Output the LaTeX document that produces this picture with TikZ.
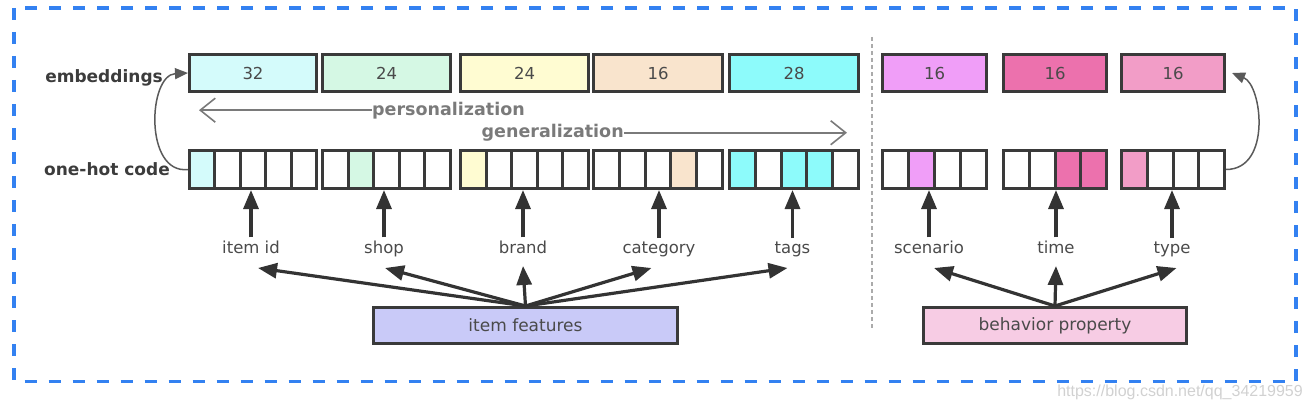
\documentclass[tikz,border=0pt]{standalone}
\usepackage{fontspec}
\setmainfont{DejaVu Sans}
\newfontfamily\wmfont{Liberation Sans}
\usetikzlibrary{arrows.meta,calc}
\definecolor{cA}{HTML}{D4FBFB}
\definecolor{cB}{HTML}{D5F8E4}
\definecolor{cC}{HTML}{FFFCD2}
\definecolor{cD}{HTML}{F9E4CD}
\definecolor{cE}{HTML}{8DFBFB}
\definecolor{cF}{HTML}{F09EF8}
\definecolor{cG}{HTML}{EC71AD}
\definecolor{cH}{HTML}{F29DC7}
\definecolor{cIF}{HTML}{C9CAF8}
\definecolor{cBP}{HTML}{F7CCE4}
\definecolor{boxline}{HTML}{3A3A3A}
\definecolor{txt}{HTML}{4A4A4A}
\definecolor{txtb}{HTML}{3C3C3C}
\definecolor{arrc}{HTML}{333333}
\definecolor{curvec}{HTML}{5A5A5A}
\definecolor{openc}{HTML}{7A7A7A}
\definecolor{bordc}{HTML}{3381F1}
\definecolor{sepc}{HTML}{ABABAB}
\newcommand\ohrow[5]{%
  \pgfmathsetmacro\cw{(#3-#2)/#4}%
  \foreach \fc [count=\i] in {#5}{%
    \node[cell, fill=\fc, minimum width=\cw pt] (#1-\i) at ({#2+(\i-0.5)*\cw},169.5) {};
  }%
}
\begin{document}
\begin{tikzpicture}[x=1pt,y=-1pt,
  emb/.style={draw=boxline, line width=3pt, minimum height=37pt, inner sep=0pt, font=\fontsize{16.5}{16.5}\selectfont, text=txt},
  cell/.style={draw=boxline, line width=3pt, minimum height=38pt, inner sep=0pt},
  lbl/.style={font=\fontsize{16.5}{16.5}\selectfont, text=txt, inner sep=0pt},
  side/.style={font=\bfseries\fontsize{17}{17}\selectfont, text=txtb, inner sep=0pt},
  dirlbl/.style={font=\bfseries\fontsize{17.5}{17.5}\selectfont, text=openc, inner sep=0pt},
  featbox/.style={draw=boxline, line width=3pt, minimum height=36pt, inner sep=0pt, font=\fontsize{17}{17}\selectfont, text=txt},
  thickarr/.style={draw=arrc, line width=3.2pt, -{Triangle[length=19pt,width=15pt]}},
  curvearr/.style={draw=curvec, line width=1.5pt, -{Triangle[length=13pt,width=11pt]}},
  openarr/.style={draw=openc, line width=1.6pt, -{Straight Barb[length=15pt,width=24pt]}},
  sep/.style={draw=sepc, line width=2pt, dash pattern=on 4pt off 3pt},
  border/.style={draw=bordc, line width=3.8pt, dash pattern=on 12pt off 12pt}
]
\useasboundingbox (0,0) rectangle (1312,404);
\draw[border] (14,8) rectangle (1296,381.5);

% embeddings row
\node[emb, fill=cA, minimum width=127pt] (e1) at (253,73) {32};
\node[emb, fill=cB, minimum width=128pt] (e2) at (386.5,73) {24};
\node[emb, fill=cC, minimum width=128pt] (e3) at (524.5,73) {24};
\node[emb, fill=cD, minimum width=129pt] (e4) at (658,73) {16};
\node[emb, fill=cE, minimum width=129pt] (e5) at (794,73) {28};
\node[emb, fill=cF, minimum width=104pt] (e6) at (934.5,73) {16};
\node[emb, fill=cG, minimum width=103pt] (e7) at (1055,73) {16};
\node[emb, fill=cH, minimum width=103pt] (e8) at (1173,73) {16};

% one-hot row
\ohrow{g1}{189.5}{316.5}{5}{cA,white,white,white,white}
\ohrow{g2}{322.5}{450.5}{5}{white,cB,white,white,white}
\ohrow{g3}{460.5}{588.5}{5}{cC,white,white,white,white}
\ohrow{g4}{593.5}{722.5}{5}{white,white,white,cD,white}
\ohrow{g5}{729.5}{858.5}{5}{cE,white,cE,cE,white}
\ohrow{r1}{882.5}{986.5}{4}{white,cF,white,white}
\ohrow{r2}{1003.5}{1106.5}{4}{white,white,cG,cG}
\ohrow{r3}{1121.5}{1224.5}{4}{cH,white,white,white}

% side labels
\node[side, anchor=base east] (embl) at (163,82.5) {embeddings};
\node[side, anchor=base east] (ohl) at (170,175) {one-hot code};

% curves
\draw[curvearr] (g1-1.west) .. controls ($(g1-1.west)+(-44,5)$) and ($(e1.west)+(-40,2)$) .. (e1.west);
\coordinate (rt) at ($(e8.east)+(6,0)$);
\draw[curvearr] (r3-4.east) .. controls ($(r3-4.east)+(46,0)$) and ($(rt)+(30,12)$) .. (rt);

% personalization / generalization
\node[dirlbl, anchor=base west] (pers) at (372,115) {personalization};
\coordinate (pl) at (199,112);
\draw[openarr] (pers.west) -- (pers.west -| pl);
\node[dirlbl, anchor=base west] (gen) at (481.5,137.5) {generalization};
\coordinate (gr) at (847,132);
\draw[openarr] (gen.east) -- (gen.east -| gr);

% separator
\coordinate (s1) at (872,37);
\coordinate (s2) at (872,328);
\draw[sep] (s1) -- (s2);

% feature labels
\node[lbl, anchor=base] (lid) at (251,253) {item id};
\node[lbl, anchor=base] (lshop) at (384,253) {shop};
\node[lbl, anchor=base] (lbrand) at (523,253) {brand};
\node[lbl, anchor=base] (lcat) at (659,253) {category};
\node[lbl, anchor=base] (ltags) at (792.5,253) {tags};
\node[lbl, anchor=base] (lscen) at (929,253) {scenario};
\node[lbl, anchor=base] (ltime) at (1056,253) {time};
\node[lbl, anchor=base] (ltype) at (1172,253) {type};

\draw[thickarr] ([yshift=3pt]lid.north) -- (lid.north |- g1-1.south);
\draw[thickarr] ([yshift=3pt]lshop.north) -- (lshop.north |- g2-1.south);
\draw[thickarr] ([yshift=3pt]lbrand.north) -- (lbrand.north |- g3-1.south);
\draw[thickarr] ([yshift=3pt]lcat.north) -- (lcat.north |- g4-1.south);
\draw[thickarr] ([yshift=3pt]ltags.north) -- (ltags.north |- g5-1.south);
\draw[thickarr] ([yshift=3pt]lscen.north) -- (lscen.north |- r1-1.south);
\draw[thickarr] ([yshift=3pt]ltime.north) -- (ltime.north |- r2-1.south);
\draw[thickarr] ([yshift=3pt]ltype.north) -- (ltype.north |- r3-1.south);

% source boxes
\node[featbox, fill=cIF, minimum width=304pt] (itf) at (525.5,325.5) {item features};
\node[featbox, fill=cBP, minimum width=263pt] (bhp) at (1055,325.5) {behavior property};

\coordinate (tid) at (258,268);
\coordinate (tshop) at (385,268);
\coordinate (tbrand) at (523,266);
\coordinate (tcat) at (651.5,268);
\coordinate (ttags) at (787.5,268);
\coordinate (tscen) at (934,268);
\coordinate (ttime) at (1056,266);
\coordinate (ttype) at (1176.5,268);

\draw[thickarr] (itf.north) -- (tid);
\draw[thickarr] (itf.north) -- (tshop);
\draw[thickarr] (itf.north) -- (tbrand);
\draw[thickarr] (itf.north) -- (tcat);
\draw[thickarr] (itf.north) -- (ttags);
\draw[thickarr] (bhp.north) -- (tscen);
\draw[thickarr] (bhp.north) -- (ttime);
\draw[thickarr] (bhp.north) -- (ttype);

% watermark
\node[anchor=base east, inner sep=0pt, text=black!18, font=\wmfont\fontsize{16}{16}\selectfont] (wm) at (1303,396) {https://blog.csdn.net/qq\_34219959};
\end{tikzpicture}
\end{document}
